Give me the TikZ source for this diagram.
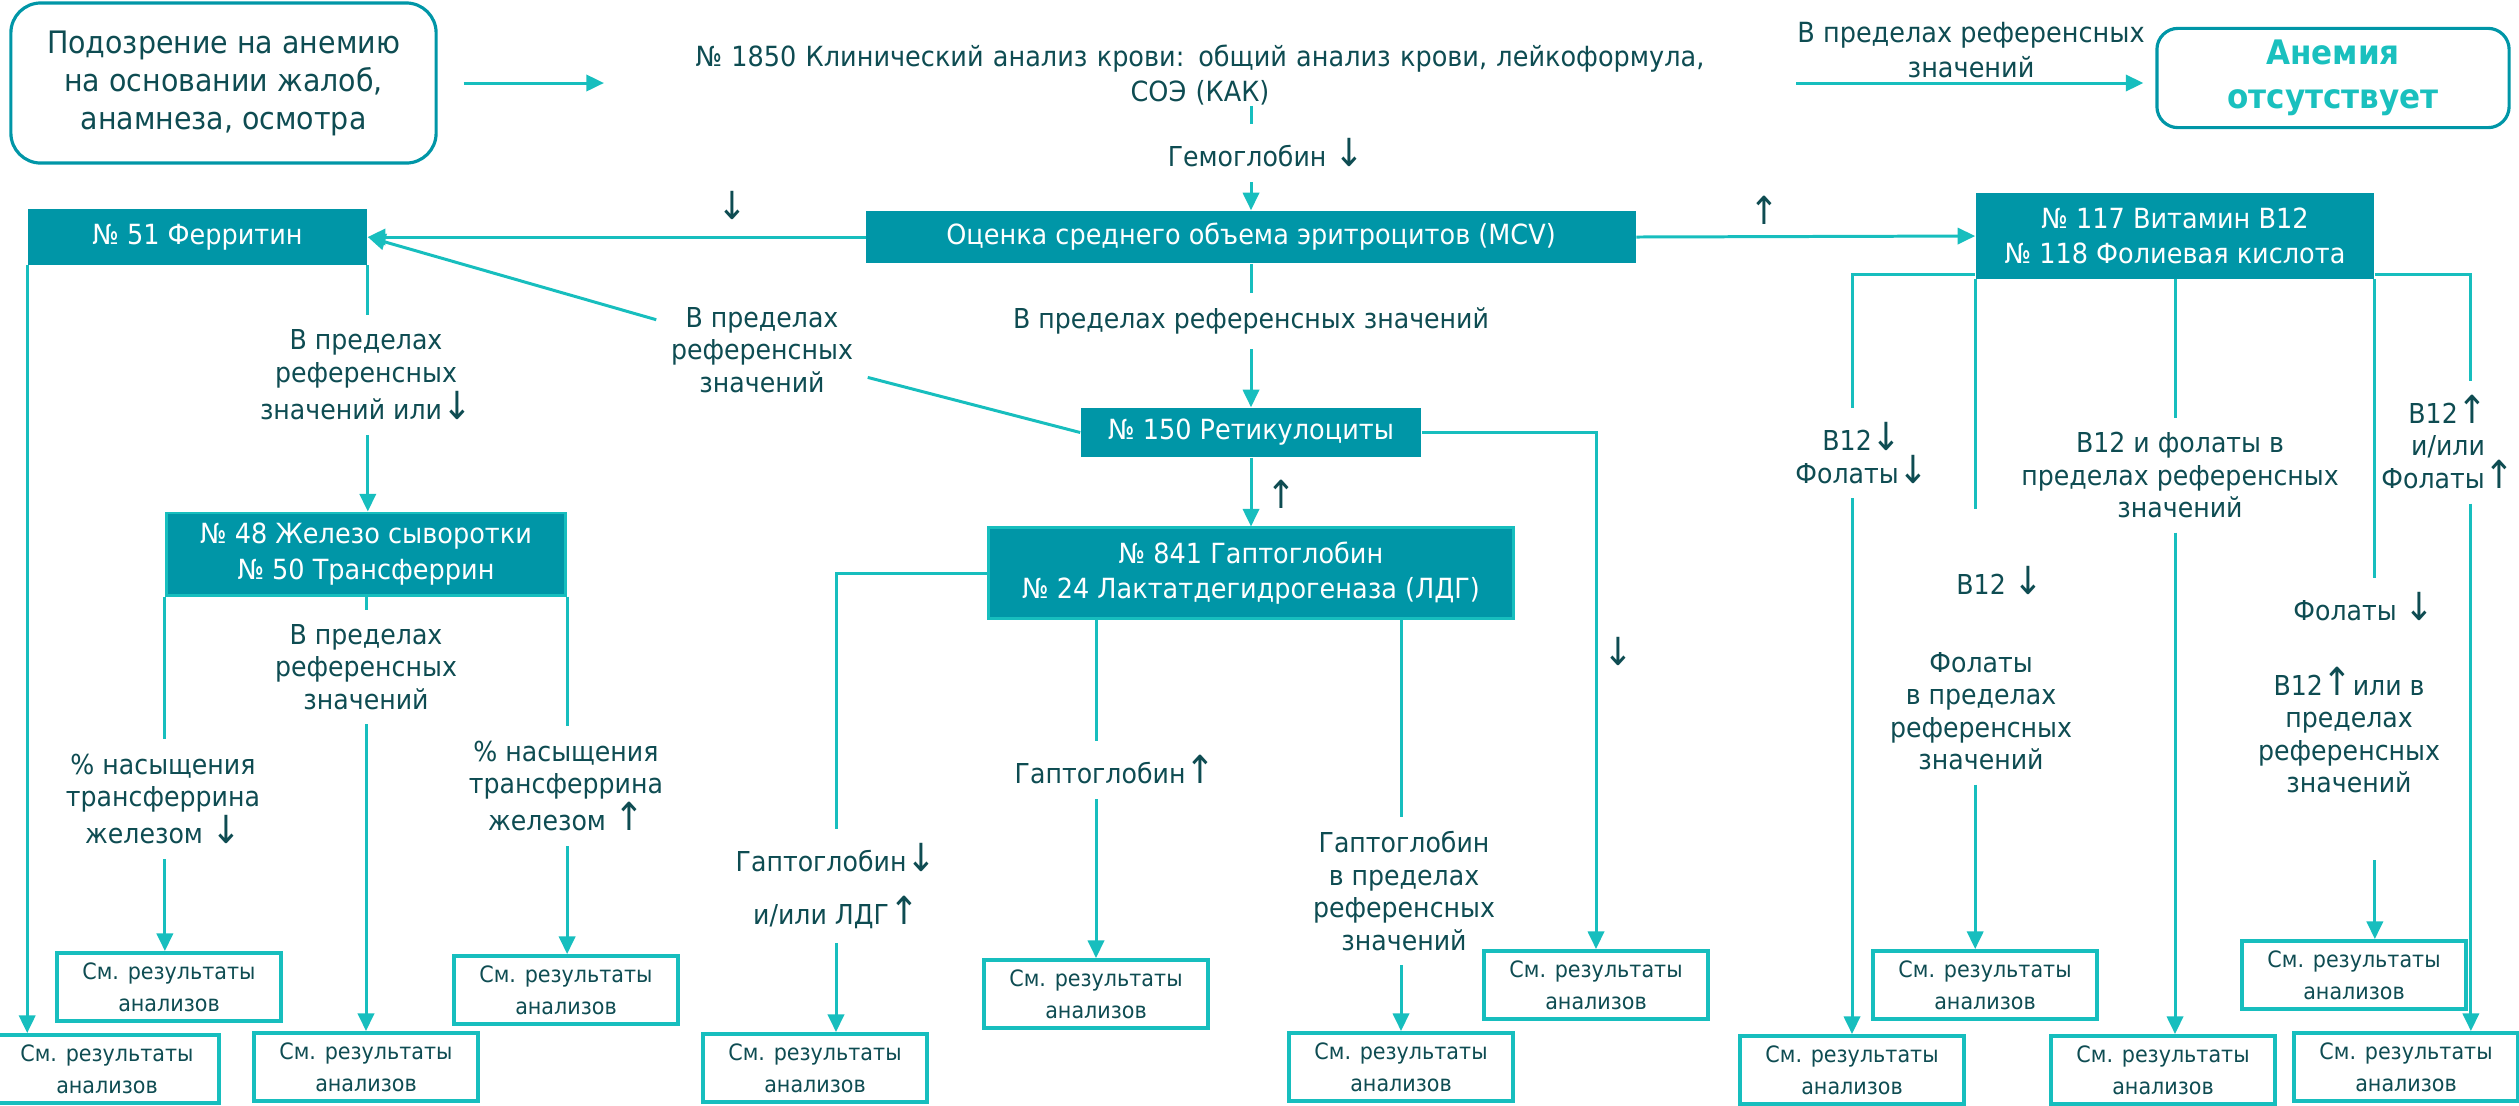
\documentclass[tikz,border=0pt]{standalone}
\usepackage{fontspec}
\setmainfont{DejaVu Sans}[FakeStretch=0.92]
\usetikzlibrary{positioning}
\usetikzlibrary{arrows.meta}

\definecolor{boxfill}{RGB}{0,150,167}
\definecolor{wirec}{RGB}{23,190,190}
\definecolor{ink}{RGB}{14,76,82}
\definecolor{okcyan}{RGB}{26,192,190}

\newcommand{\dnar}{{\fontsize{11}{11}\selectfont↓}}
\newcommand{\upar}{{\fontsize{11}{11}\selectfont↑}}

\tikzset{
  txt/.style={text=ink, font=\fontsize{7.8}{9.2}\selectfont, align=center, inner sep=4pt},
  test/.style={fill=boxfill, text=white, font=\fontsize{7.9}{10}\selectfont, align=center, inner sep=0pt},
  res/.style={draw=wirec, line width=1.1pt, text=ink, font=\fontsize{6.4}{9}\selectfont,
    align=center, minimum width=2.24cm, minimum height=0.68cm, inner sep=0pt},
  link/.style={draw=wirec, line width=0.85pt},
  arr/.style={link, -{Triangle[length=5pt,width=4.6pt]}},
}

\begin{document}
\begin{tikzpicture}[x=0.01cm, y=-0.01cm]
    \useasboundingbox (0,0) rectangle (2519,1105);

    % top row
    \node[draw=boxfill, line width=0.9pt, rounded corners=8.5pt,
        minimum width=4.25cm, minimum height=1.6cm, text=ink,
        font=\fontsize{8.8}{10.8}\selectfont, align=center] (start) at (223.5,83)
        {Подозрение на анемию\\на основании жалоб,\\анамнеза, осмотра};
    \node[txt, font=\fontsize{7.9}{10}\selectfont, text width=11.9cm, inner sep=0pt] (cbc) at (1200,75)
        {№ 1850 Клинический анализ крови: общий анализ крови, лейкоформула,\\СОЭ (КАК)};
    \node[txt, font=\fontsize{7.9}{10}\selectfont] (lok) at (1971,50) {В пределах референсных\\значений};
    \node[draw=boxfill, line width=0.9pt, rounded corners=6pt,
        minimum width=3.52cm, minimum height=0.98cm, text=okcyan,
        font=\bfseries\fontsize{9.6}{12.5}\selectfont, align=center] (noanem) at (2333,78)
        {Анемия\\отсутствует};
    \node[txt] (hb) at (1266,153) {Гемоглобин \dnar};

    % tests
    \node[test, minimum width=7.69cm, minimum height=0.52cm] (mcv) at (1251,237)
        {Оценка среднего объема эритроцитов (MCV)};
    \node[test, minimum width=3.39cm, minimum height=0.55cm] (ferr) at (197.5,237) {№ 51 Ферритин};
    \node[test, minimum width=3.98cm, minimum height=0.85cm] (b12) at (2175,236)
        {№ 117 Витамин B12\\№ 118 Фолиевая кислота};
    \node[test, minimum width=3.40cm, minimum height=0.49cm] (ret) at (1251,432.5) {№ 150 Ретикулоциты};
    \node[test, draw=wirec, line width=0.85pt, minimum width=3.99cm, minimum height=0.82cm] (iron) at (366,554)
        {№ 48 Железо сыворотки\\№ 50 Трансферрин};
    \node[test, draw=wirec, line width=0.85pt, minimum width=5.25cm, minimum height=0.90cm] (hap) at (1251,573)
        {№ 841 Гаптоглобин\\№ 24 Лактатдегидрогеназа (ЛДГ)};

    % results
    \foreach \nm/\x/\y in {R1/107/1069, R2/169/987, R3/366/1067, R4/566/990,
        R5/815/1068, R6/1096/994, R7/1401/1067, R8/1596/985,
        R9/1852/1070, R10/1985/985, R11/2163/1070, R12/2354/975, R13/2406/1067}{%
        \node[res] (\nm) at (\x,\y) {См. результаты\\анализов};
    }

    % labels
    \node[txt] (dn1) at (732,205) {\dnar};
    \node[txt] (up1) at (1764,210) {\upar};
    \node[txt] (lmr) at (1251,321) {В пределах референсных значений};
    \node[txt] (lrf) at (762,350) {В пределах\\референсных\\значений};
    \node[txt] (l2) at (366,375) {В пределах\\референсных\\значений или\dnar};
    \node[txt] (up2) at (1281,494) {\upar};
    \node[txt] (dn3) at (1618,651) {\dnar};
    \node[txt] (lIL) at (163,799) {\% насыщения\\трансферрина\\железом \dnar};
    \node[txt] (lIM) at (366,667) {В пределах\\референсных\\значений};
    \node[txt] (lIR) at (566,786) {\% насыщения\\трансферрина\\железом \upar};
    \node[txt, font=\fontsize{7.8}{15}\selectfont] (l5) at (836,886) {Гаптоглобин\dnar\\и/или ЛДГ\upar};
    \node[txt] (l6) at (1115,770) {Гаптоглобин\upar};
    \node[txt] (l7) at (1404,891) {Гаптоглобин\\в пределах\\референсных\\значений};
    \node[txt] (l9) at (1862,453) {B12\dnar\\Фолаты\dnar};
    \node[txt] (l10a) at (2000,580) {B12 \dnar};
    \node[txt] (l10b) at (1981,711) {Фолаты\\в пределах\\референсных\\значений};
    \node[txt] (l11) at (2180,475) {B12 и фолаты в\\пределах референсных\\значений};
    \node[txt] (l12a) at (2364,607) {Фолаты \dnar};
    \node[txt] (l12b) at (2349,730) {B12\upar{}или в\\пределах\\референсных\\значений};
    \node[txt] (l13) at (2448,442) {B12\upar\\и/или\\Фолаты\upar};

    % top connectors
    \draw[arr, shorten <=7.4pt] (start.east) -- (cbc.west |- start.east);
    \draw[arr, shorten >=3.4pt] (cbc.east |- start.east) -- (noanem.west |- start.east);
    \draw[link] (cbc.south -| mcv.north) -- (hb.north -| mcv.north);
    \draw[arr] (hb.south -| mcv.north) -- (mcv.north);
    \draw[arr] (mcv.west) -- (ferr.east);
    \draw[arr] (mcv.east) -- (b12.west);
    \draw[link] (mcv.south) -- (lmr.north -| mcv.south);
    \draw[arr] (lmr.south -| mcv.south) -- (ret.north);
    \draw[arr] (ret.west) -- (lrf) -- (ferr.east);
    \draw[arr] (ret) -- (hap);
    \draw[arr] (ret.east) -| (R8.north);

    % ferritin and iron
    \draw[arr] (ferr.south west) -- (ferr.south west |- R1.north);
    \draw[link] (ferr.south east) -- (ferr.south east |- l2.north);
    \draw[arr] (ferr.south east |- l2.south) -- (ferr.south east |- iron.north);
    \draw[link] (iron.south west) -- (iron.south west |- lIL.north);
    \draw[arr] (iron.south west |- lIL.south) -- (iron.south west |- R2.north);
    \draw[link] (iron.south) -- (lIM);
    \draw[arr] (lIM) -- (R3);
    \draw[link] (iron.south east) -- (iron.south east |- lIR.north);
    \draw[arr] (iron.south east |- lIR.south) -- (iron.south east |- R4.north);

    % haptoglobin
    \draw[link] (hap.west) -| (l5.north);
    \draw[arr] (l5.south) -- (l5.south |- R5.north);
    \draw[link] (hap.south -| R6.north) -- (l6.north -| R6.north);
    \draw[arr] (l6.south -| R6.north) -- (R6.north);
    \draw[link] (hap.south -| R7.north) -- (l7.north -| R7.north);
    \draw[arr] (l7.south -| R7.north) -- (R7.north);

    % b12 and folate
    \draw[link] ([yshift=1.4pt]b12.south west) -| (l9.north -| R9.north);
    \draw[arr] (l9.south -| R9.north) -- (R9.north);
    \draw[link, shorten >=12pt] (b12.south west) -- (b12.south west |- l10a.north);
    \draw[arr] (b12.south west |- l10b.south) -- (b12.south west |- R10.north);
    \draw[link] (b12.south) -- (b12.south |- l11.north);
    \draw[arr] (b12.south |- l11.south) -- (b12.south |- R11.north);
    \draw[link] (b12.south east) -- (b12.south east |- l12a.north);
    \draw[arr, shorten <=15pt] (b12.south east |- l12b.south) -- (b12.south east |- R12.north);
    \draw[link] ([yshift=1.4pt]b12.south east) -| ([xshift=6.5pt]l13.north);
    \draw[arr] ([xshift=6.5pt]l13.south) -- ([xshift=6.5pt]l13.south |- R13.north);
\end{tikzpicture}
\end{document}
